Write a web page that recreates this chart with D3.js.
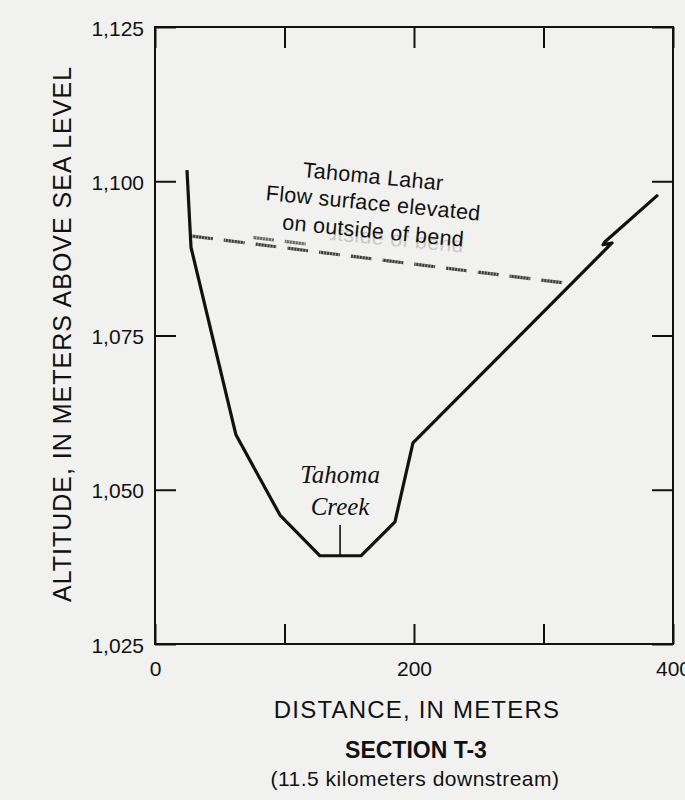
<!DOCTYPE html>
<html>
<head>
<meta charset="utf-8">
<script src="https://cdn.jsdelivr.net/npm/d3@7"></script>
<style>
  html, body { margin: 0; padding: 0; background: #f1f1ef; }
  svg { display: block; }
  .tick text { font-family: "Liberation Sans", Arial, sans-serif; font-size: 21px; fill: #111; }
</style>
</head>
<body>
<svg id="chart" width="685" height="800"></svg>
<script>
// ground profile, section T-3 (distance m, altitude m); last points carry the break mark
const groundDist = [24.7, 27.8, 62.5, 96.5, 127.4, 159.0, 185.3, 199.2, 352.9, 345.9, 347.5, 388.4];
const groundAlt = [1101.8, 1089.3, 1058.9, 1045.9, 1039.3, 1039.3, 1044.8, 1057.6, 1090.0, 1089.7, 1090.2, 1097.8];

// Tahoma Lahar flow surface, plus the short doubled trace near the left bank
const laharDist = [28.6, 316.6];
const laharAlt = [1091.1, 1083.5];
const laharDist2 = [75.7, 121.2];
const laharAlt2 = [1090.9, 1089.7];

// creek marker
const creekDist = [142.9, 142.9];
const creekAlt = [1039.3, 1044.3];

const xTicks = [0, 100, 200, 300, 400];
const xLabels = [0, 200, 400];
const yTicks = [1025, 1050, 1075, 1100, 1125];

const noteLines = ["Tahoma Lahar", "Flow surface elevated", "on outside of bend"];
const noteAlt = [1099.6, 1095.3, 1090.8];
const creekLines = ["Tahoma", "Creek"];
const creekLabelAlt = [1051.1, 1045.9];

const svg = d3.select("#chart");
const plotL = 155, plotR = 673, plotT = 27, plotB = 644;

let x = d3.scaleLinear().domain([0, 400]).range([plotL, plotR]);
let y = d3.scaleLinear().domain([1025, 1125]).range([plotB, plotT]);

// frame
svg.append("rect")
    .attr("x", plotL).attr("y", plotT)
    .attr("width", plotR - plotL).attr("height", plotB - plotT)
    .attr("fill", "none").attr("stroke", "#111").attr("stroke-width", 2);

// axes with inward ticks
let gLeft = svg.append("g").attr("transform", `translate(${plotL},0)`)
    .call(d3.axisLeft(y).tickValues(yTicks).tickSize(-21).tickPadding(11).tickFormat(d3.format(",")));
let gRight = svg.append("g").attr("transform", `translate(${plotR},0)`)
    .call(d3.axisRight(y).tickValues(yTicks).tickSize(-21).tickFormat(""));
let gBottom = svg.append("g").attr("transform", `translate(0,${plotB})`)
    .call(d3.axisBottom(x).tickValues(xTicks).tickSize(-20).tickPadding(17)
        .tickFormat(d => xLabels.includes(d) ? d : ""));
let gTop = svg.append("g").attr("transform", `translate(0,${plotT})`)
    .call(d3.axisTop(x).tickValues(xTicks).tickSize(-21).tickFormat(""));

[gLeft, gRight, gBottom, gTop].forEach(g => {
    g.select(".domain").remove();
    g.selectAll(".tick line").attr("stroke", "#111").attr("stroke-width", 2);
});
gLeft.selectAll(".tick text").attr("dy", "8px");

let line = d3.line()
    .x(d => x(d[0]))
    .y(d => y(d[1]));

// lahar flow surface (wavy grey dashes)
const laharSets = [
    { pts: d3.zip(laharDist, laharAlt), op: 1 },
    { pts: d3.zip(laharDist2, laharAlt2), op: 0.75 }
];
laharSets.forEach(s => {
    svg.append("path")
        .datum(s.pts)
        .attr("d", line)
        .attr("fill", "none")
        .attr("stroke", "#3a3a3a")
        .attr("stroke-width", 3.2)
        .attr("stroke-dasharray", "21,11")
        .attr("opacity", s.op);
    svg.append("path")
        .datum(s.pts)
        .attr("d", line)
        .attr("fill", "none")
        .attr("stroke", "#f1f1ef")
        .attr("stroke-width", 3.2)
        .attr("stroke-dasharray", "1.2,1.8")
        .attr("opacity", 0.5);
});

// ground profile
svg.append("path")
    .datum(d3.zip(groundDist, groundAlt))
    .attr("d", line)
    .attr("fill", "none")
    .attr("stroke", "#111")
    .attr("stroke-width", 3.2)
    .attr("stroke-linejoin", "round");

// creek marker
svg.append("path")
    .datum(d3.zip(creekDist, creekAlt))
    .attr("d", line)
    .attr("stroke", "#111")
    .attr("stroke-width", 1.6);

// lahar note, slightly tilted
const noteX = 168;
noteLines.forEach((t, i) => {
    let px = x(noteX), py = y(noteAlt[i]);
    svg.append("text")
        .attr("transform", `translate(${px},${py}) rotate(5.5)`)
        .attr("text-anchor", "middle")
        .style("font-family", "'Liberation Sans', Arial, sans-serif")
        .style("font-size", "21.5px")
        .style("letter-spacing", "0.3px")
        .attr("fill", "#111")
        .text(t);
});

// misregistered ghost of the last note line
svg.append("clipPath").attr("id", "ghostClip")
    .append("rect").attr("x", 330).attr("y", 225).attr("width", 150).attr("height", 45);
svg.append("g").attr("clip-path", "url(#ghostClip)")
    .append("text")
    .attr("transform", `translate(${x(noteX)},${y(noteAlt[2]) + 6}) rotate(5.5)`)
    .attr("text-anchor", "middle")
    .style("font-family", "'Liberation Sans', Arial, sans-serif")
    .style("font-size", "21.5px")
    .style("letter-spacing", "0.3px")
    .attr("fill", "#111")
    .attr("opacity", 0.18)
    .text(noteLines[2]);

// creek label
creekLines.forEach((t, i) => {
    svg.append("text")
        .attr("x", x(creekDist[0]))
        .attr("y", y(creekLabelAlt[i]))
        .attr("text-anchor", "middle")
        .style("font-family", "'Liberation Serif', 'Times New Roman', serif")
        .style("font-style", "italic")
        .style("font-size", "25px")
        .attr("fill", "#111")
        .text(t);
});

// axis titles and caption
svg.append("text")
    .attr("transform", "translate(71,334) rotate(-90)")
    .attr("text-anchor", "middle")
    .style("font-family", "'Liberation Sans', Arial, sans-serif")
    .style("font-size", "25px")
    .style("letter-spacing", "1px")
    .attr("fill", "#111")
    .text("ALTITUDE, IN METERS ABOVE SEA LEVEL");

svg.append("text")
    .attr("x", 417).attr("y", 718)
    .attr("text-anchor", "middle")
    .style("font-family", "'Liberation Sans', Arial, sans-serif")
    .style("font-size", "24px")
    .style("letter-spacing", "1.2px")
    .attr("fill", "#111")
    .text("DISTANCE, IN METERS");

svg.append("text")
    .attr("x", 416).attr("y", 758)
    .attr("text-anchor", "middle")
    .style("font-family", "'Liberation Sans', Arial, sans-serif")
    .style("font-size", "23px")
    .style("font-weight", "bold")
    .attr("fill", "#111")
    .text("SECTION T-3");

svg.append("text")
    .attr("x", 415).attr("y", 786)
    .attr("text-anchor", "middle")
    .style("font-family", "'Liberation Sans', Arial, sans-serif")
    .style("font-size", "21px")
    .style("letter-spacing", "0.5px")
    .attr("fill", "#111")
    .text("(11.5 kilometers downstream)");
</script>
</body>
</html>
